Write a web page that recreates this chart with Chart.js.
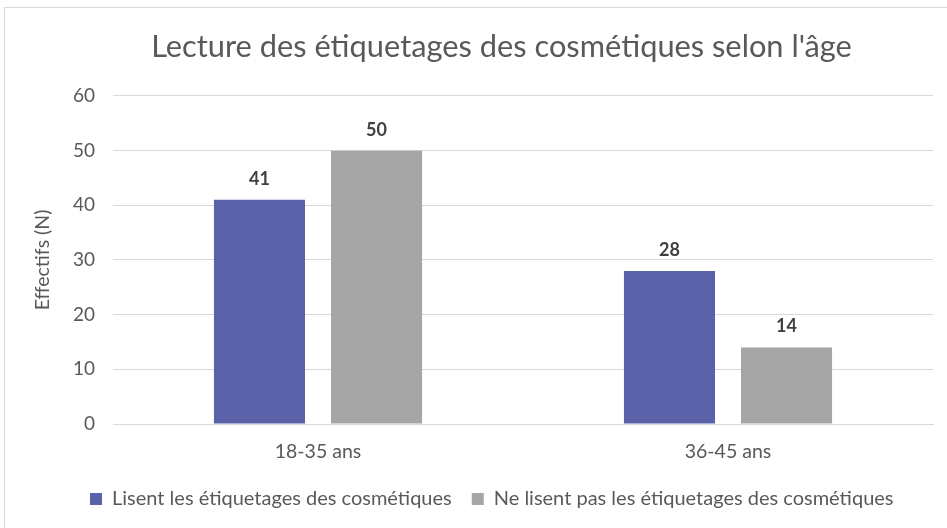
<!DOCTYPE html>
<html>
<head>
<meta charset="utf-8">
<script src="https://cdn.jsdelivr.net/npm/chart.js@4/dist/chart.umd.min.js"></script>
<style>
  html, body { margin: 0; padding: 0; background: #fff; overflow: hidden; width: 947px; height: 528px; }
  #frame { position: absolute; left: 4px; top: 7px; width: 1000px; height: 600px; border: 1px solid #d9d9d9; box-sizing: border-box; }
  #wrap { position: absolute; left: 0; top: 0; width: 947px; height: 528px; }
  canvas { display: block; }
</style>
</head>
<body>
<div id="frame"></div>
<div id="wrap"><canvas id="c" width="947" height="528"></canvas></div>
<script>
const chartTitle = "Lecture des étiquetages des cosmétiques selon l'âge";
const yAxisTitle = "Effectifs (N)";
const categories = ["18-35 ans", "36-45 ans"];
const seriesNames = ["Lisent les étiquetages des cosmétiques", "Ne lisent pas les étiquetages des cosmétiques"];
const lisent = [41, 28];
const neLisentPas = [50, 14];
const yTicks = [0, 10, 20, 30, 40, 50, 60];

const FONT = "Lato, 'Open Sans', 'DejaVu Sans', sans-serif";
const TXT = '#595959';

const dataLabels = {
  id: 'dataLabels',
  afterDatasetsDraw(chart) {
    const ctx = chart.ctx;
    ctx.save();
    ctx.font = "bold 18px " + FONT;
    ctx.fillStyle = '#404040';
    ctx.textAlign = 'center';
    ctx.textBaseline = 'alphabetic';
    chart.data.datasets.forEach((ds, i) => {
      chart.getDatasetMeta(i).data.forEach((bar, j) => {
        ctx.fillText(String(ds.data[j]), bar.x, bar.y - 15);
      });
    });
    ctx.restore();
  }
};

new Chart(document.getElementById('c'), {
  type: 'bar',
  data: {
    labels: categories,
    datasets: [
      { label: seriesNames[0], data: lisent, backgroundColor: '#5B62AA', categoryPercentage: 0.571, barPercentage: 0.778 },
      { label: seriesNames[1], data: neLisentPas, backgroundColor: '#A5A5A5', categoryPercentage: 0.571, barPercentage: 0.778 }
    ]
  },
  options: {
    responsive: false,
    devicePixelRatio: 1,
    animation: false,
    layout: { padding: { left: 70, right: 14, top: 0, bottom: 9 } },
    plugins: {
      title: {
        display: true, text: chartTitle, color: TXT,
        font: { family: FONT, size: 30.8, weight: 'normal' },
        padding: { top: 29, bottom: 30 }
      },
      legend: {
        position: 'bottom',
        align: 'start',
        labels: {
          color: TXT, font: { family: FONT, size: 20 },
          boxWidth: 12, boxHeight: 12, padding: 20
        }
      },
      tooltip: { enabled: false }
    },
    scales: {
      x: {
        grid: { display: false },
        border: { display: true, color: '#d9d9d9', width: 1 },
        ticks: { color: TXT, font: { family: FONT, size: 19.5 }, padding: 8 },
        afterFit(s) { s.height = 45; }
      },
      y: {
        min: yTicks[0], max: yTicks[yTicks.length - 1],
        afterBuildTicks(s) { s.ticks = yTicks.map(v => ({ value: v })); },
        grid: { color: '#d9d9d9', lineWidth: 1, drawTicks: false },
        border: { display: false },
        ticks: { color: TXT, font: { family: FONT, size: 19 }, padding: 18 },
        title: { display: true, text: yAxisTitle, color: TXT, font: { family: FONT, size: 19.5 }, padding: { top: -39, bottom: 0 } },
        afterFit(s) { s.width = 43; }
      }
    }
  },
  plugins: [dataLabels]
});
</script>
</body>
</html>
